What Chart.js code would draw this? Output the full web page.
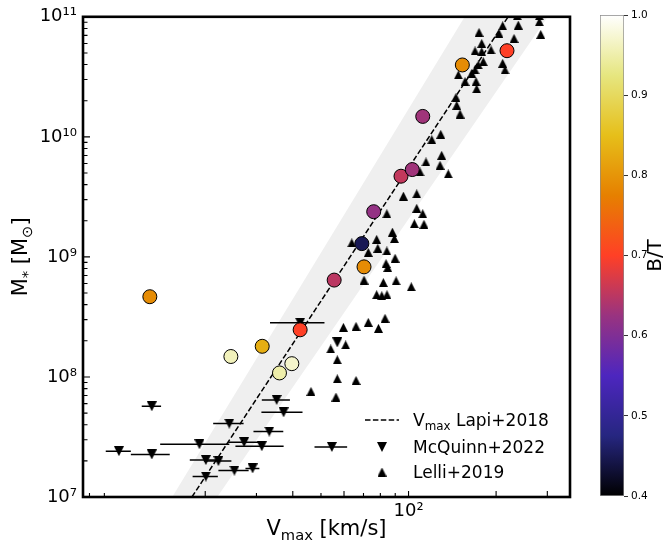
<!DOCTYPE html>
<html>
<head>
<meta charset="utf-8">
<script src="https://cdn.jsdelivr.net/npm/chart.js@4.4.1/dist/chart.umd.min.js"></script>
<style>
  html, body { margin: 0; padding: 0; background: #fff; }
  #wrap { position: relative; width: 671px; height: 549px; }
  #main { position: absolute; left: 0; top: 0; }
  #cbar { position: absolute; left: 590px; top: 0; }
</style>
</head>
<body>
<div id="wrap">
  <canvas id="main" width="590" height="549"></canvas>
  <canvas id="cbar" width="81" height="549"></canvas>
</div>
<script>
// Lapi+2018 Vmax relation (km/s vs Msun) and its scatter band
const lapiV = [18.0, 220];
const lapiM = [1e7, 1e11];
const bandV = [15.4, 156, 301, 22.0];
const bandM = [1e7, 1e11, 1e11, 1e7];

// McQuinn+2022 dwarfs, symmetric errors on Vmax
const mcqV = [13.1, 10.1, 13.1, 19.1, 24.2, 35.2, 37.2, 33.2, 27.2, 31.3, 20.1, 22.2, 25.2, 29.1, 20.1, 54.5, 42.4, 56.9];
const mcqVerr = [1.0, 1.0, 2.0, 5.1, 2.9, 3.9, 6.0, 3.9, 3.2, 5.9, 2.4, 2.4, 3.0, 1.6, 2.0, 7.0, 9.0, 0];
const mcqM = [5.7e7, 2.41e7, 2.26e7, 2.75e7, 4.09e7, 6.44e7, 5.07e7, 3.51e7, 2.86e7, 2.65e7, 2.03e7, 1.99e7, 1.66e7, 1.73e7, 1.48e7, 2.61e7, 2.83e8, 1.94e8];

// Lelli+2019
const lelliV = [174.7, 204.6, 210.7, 236.5, 238.4, 230.5, 281.6, 281.6, 284.7, 178.5,
  178.5, 192.1, 169.3, 180.7, 173.7, 169.3, 156.4, 148.3, 164.9, 170.6,
  171.5, 210.7, 214.6, 145.6, 146.4, 150.3, 129.0, 120.2, 130.0, 128.3,
  114.8, 137.0, 109.5, 96.0, 106.7, 106.7, 111.9, 104.7, 113.0, 84.2,
  88.0, 89.4, 77.7, 63.8, 72.7, 78.4, 84.2, 89.9, 83.7, 84.8,
  70.3, 81.9, 90.6, 102.2, 77.7, 80.9, 84.3, 59.7, 66.0, 72.7,
  83.0, 78.8, 54.0, 60.8, 56.9, 56.9, 66.0, 46.2, 56.3];
const lelliM = [7.41e10, 7.27e10, 8.42e10, 1.02e11, 8.53e10, 6.61e10, 1.02e11, 9.09e10, 7.13e10, 6.00e10,
  5.12e10, 5.29e10, 5.19e10, 4.23e10, 3.97e10, 3.61e10, 2.89e10, 3.28e10, 3.38e10, 2.89e10,
  2.51e10, 4.10e10, 3.61e10, 2.13e10, 1.83e10, 1.55e10, 1.05e10, 9.48e9, 7.02e9, 5.80e9,
  6.18e9, 4.91e9, 5.10e9, 3.21e9, 3.35e9, 2.54e9, 2.29e9, 1.89e9, 1.87e9, 2.29e9,
  1.61e9, 1.42e9, 1.40e9, 1.31e9, 1.09e9, 1.18e9, 1.12e9, 9.75e8, 8.80e8, 8.15e8,
  6.41e8, 6.12e8, 6.32e8, 5.64e8, 4.84e8, 4.75e8, 4.84e8, 2.59e8, 2.64e8, 2.85e8,
  3.08e8, 2.54e8, 1.71e8, 1.85e8, 1.39e8, 9.66e7, 9.35e7, 7.58e7, 6.80e7];

// galaxies coloured by bulge-to-total ratio
const galV = [12.9, 24.5, 31.4, 36.0, 39.7, 42.4, 55.5, 70.3, 69.1, 75.9, 94.2, 103.0, 111.9, 153.1, 218.0];
const galM = [4.66e8, 1.48e8, 1.80e8, 1.08e8, 1.29e8, 2.47e8, 6.41e8, 8.26e8, 1.29e9, 2.38e9, 4.70e9, 5.34e9, 1.48e10, 3.97e10, 5.22e10];
const galBT = [0.79, 0.96, 0.83, 0.95, 0.97, 0.70, 0.65, 0.79, 0.45, 0.62, 0.655, 0.63, 0.63, 0.79, 0.70];

// axes
const xTicks = [8, 9, 20, 30, 40, 50, 60, 70, 80, 90, 100, 200, 300];
const xMajor = [20, 40, 60, 100, 200, 300];
const xLabels = { 100: '10²' };
const yMajor = [1e7, 1e8, 1e9, 1e10, 1e11];
const yLabels = ['10⁷', '10⁸', '10⁹', '10¹⁰', '10¹¹'];
const cbTicks = [0.4, 0.5, 0.6, 0.7, 0.8, 0.9, 1.0];
const btMin = 0.4, btMax = 1.0;

const yTicks = [];
yMajor.slice(0, -1).forEach(d => { for (let k = 1; k <= 9; k++) yTicks.push(k * d); });
yTicks.push(yMajor[yMajor.length - 1]);

Chart.defaults.font.family = "'DejaVu Sans', sans-serif";
Chart.defaults.color = '#000';

// CMRmap colour table
const cmrStops = [
  [0.000, 0.00, 0.00, 0.00],
  [0.125, 0.15, 0.15, 0.50],
  [0.250, 0.30, 0.15, 0.75],
  [0.375, 0.60, 0.20, 0.50],
  [0.500, 1.00, 0.25, 0.15],
  [0.625, 0.90, 0.50, 0.00],
  [0.750, 0.90, 0.75, 0.10],
  [0.875, 0.90, 0.90, 0.50],
  [1.000, 1.00, 1.00, 1.00]
];
function cmr(t) {
  t = Math.min(1, Math.max(0, t));
  for (let i = 1; i < cmrStops.length; i++) {
    const a = cmrStops[i - 1], b = cmrStops[i];
    if (t <= b[0]) {
      const f = (t - a[0]) / (b[0] - a[0]);
      const c = [1, 2, 3].map(k => Math.round(255 * (a[k] + f * (b[k] - a[k]))));
      return `rgb(${c[0]},${c[1]},${c[2]})`;
    }
  }
}
const btColor = b => cmr((b - btMin) / (btMax - btMin));

// matplotlib-like triangle markers
function triangle(size, down) {
  const c = document.createElement('canvas');
  c.width = size; c.height = size;
  const g = c.getContext('2d');
  g.fillStyle = '#000';
  g.beginPath();
  if (down) { g.moveTo(0, 0); g.lineTo(size, 0); g.lineTo(size / 2, size); }
  else { g.moveTo(size / 2, 0); g.lineTo(size, size); g.lineTo(0, size); }
  g.closePath();
  g.fill();
  return c;
}
const triDown = triangle(10, true);
const triUp = triangle(9, false);

const toXY = (xs, ys) => xs.map((v, i) => ({ x: v, y: ys[i] }));

// text with subscripts: parts are [text, size, drop]
function richText(ctx, parts, x, y, align) {
  let w = 0;
  parts.forEach(p => { ctx.font = `${p[1]}px 'DejaVu Sans'`; w += ctx.measureText(p[0]).width; });
  let cx = align === 'center' ? x - w / 2 : x;
  ctx.textAlign = 'left';
  ctx.textBaseline = 'alphabetic';
  parts.forEach(p => {
    ctx.font = `${p[1]}px 'DejaVu Sans'`;
    ctx.fillText(p[0], cx, y + (p[2] || 0));
    cx += ctx.measureText(p[0]).width;
  });
}

const errorBars = {
  id: 'errorBars',
  beforeDatasetDraw(chart, args) {
    if (args.index !== 2) return;
    const { ctx, chartArea: a, scales: { x, y } } = chart;
    ctx.save();
    ctx.beginPath();
    ctx.rect(a.left, a.top, a.right - a.left, a.bottom - a.top);
    ctx.clip();
    ctx.strokeStyle = '#000';
    ctx.lineWidth = 1.5;
    mcqV.forEach((v, i) => {
      if (!mcqVerr[i]) return;
      const py = y.getPixelForValue(mcqM[i]);
      ctx.beginPath();
      ctx.moveTo(x.getPixelForValue(v - mcqVerr[i]), py);
      ctx.lineTo(x.getPixelForValue(v + mcqVerr[i]), py);
      ctx.stroke();
    });
    ctx.restore();
  }
};

// spines and inward ticks
const axisFrame = {
  id: 'axisFrame',
  afterDatasetsDraw(chart) {
    const { ctx, chartArea: a, scales: { x, y } } = chart;
    ctx.save();
    ctx.strokeStyle = '#000';
    ctx.lineWidth = 1.1;
    ctx.beginPath();
    y.ticks.forEach(t => {
      const py = y.getPixelForValue(t.value);
      const len = yMajor.includes(t.value) ? 7 : 4.5;
      ctx.moveTo(a.left, py);
      ctx.lineTo(a.left + len, py);
    });
    x.ticks.forEach(t => {
      const px = x.getPixelForValue(t.value);
      const len = xMajor.includes(t.value) ? 6 : 4;
      ctx.moveTo(px, a.bottom);
      ctx.lineTo(px, a.bottom - len);
    });
    ctx.stroke();
    ctx.lineWidth = 2.6;
    ctx.strokeRect(a.left, a.top, a.right - a.left, a.bottom - a.top);
    ctx.restore();
  }
};

const titlesAndLegend = {
  id: 'titlesAndLegend',
  afterDraw(chart) {
    const { ctx, chartArea: a } = chart;
    ctx.save();
    ctx.fillStyle = '#000';
    richText(ctx, [['V', 21], ['max', 14.7, 4.5], [' [km/s]', 21]], (a.left + a.right) / 2, 535, 'center');

    ctx.save();
    ctx.translate(27, (a.top + a.bottom) / 2);
    ctx.rotate(-Math.PI / 2);
    richText(ctx, [['M', 21], ['*', 14.7, 4.5], [' [M', 21], ['⊙', 14.7, 4.5], [']', 21]], 0, 0, 'center');
    ctx.restore();

    // legend
    const mx = 382, tx = 413;
    const rows = [a.bottom - 77, a.bottom - 50, a.bottom - 25];
    ctx.strokeStyle = '#000';
    ctx.lineWidth = 1.5;
    ctx.setLineDash([5.5, 2.4]);
    ctx.beginPath();
    ctx.moveTo(365, rows[0]);
    ctx.lineTo(399, rows[0]);
    ctx.stroke();
    ctx.setLineDash([]);
    ctx.drawImage(triDown, mx - triDown.width / 2, rows[1] - triDown.height / 2);
    ctx.drawImage(triUp, mx - triUp.width / 2, rows[2] - triUp.height / 2);
    richText(ctx, [['V', 17], ['max', 11.9, 3.6], [' Lapi+2018', 17]], tx, rows[0] + 6, 'left');
    richText(ctx, [['McQuinn+2022', 17]], tx, rows[1] + 6, 'left');
    richText(ctx, [['Lelli+2019', 17]], tx, rows[2] + 6, 'left');
    ctx.restore();
  }
};

new Chart(document.getElementById('main'), {
  type: 'scatter',
  data: {
    datasets: [
      { label: 'band', type: 'line', data: toXY(bandV, bandM), fill: 'shape',
        backgroundColor: '#efefef', borderWidth: 0, pointRadius: 0, order: 5 },
      { label: 'Lapi+2018', type: 'line', data: toXY(lapiV, lapiM), fill: false,
        borderColor: '#000', borderWidth: 1.5, borderDash: [5.5, 2.4], pointRadius: 0, order: 4 },
      { label: 'McQuinn+2022', data: toXY(mcqV, mcqM), pointStyle: triDown, pointRadius: 5, order: 3 },
      { label: 'Lelli+2019', data: toXY(lelliV, lelliM), pointStyle: triUp, pointRadius: 5, order: 2 },
      { label: 'B/T', data: toXY(galV, galM), pointRadius: 7, pointStyle: 'circle',
        pointBackgroundColor: galBT.map(btColor), pointBorderColor: '#000', pointBorderWidth: 1, order: 1 }
    ]
  },
  options: {
    responsive: false,
    animation: false,
    events: [],
    layout: { padding: { top: 15, right: 20, left: 0, bottom: 0 } },
    plugins: { legend: { display: false }, tooltip: { enabled: false } },
    scales: {
      x: {
        type: 'logarithmic', min: 7.6, max: 359,
        grid: { display: false, drawTicks: false },
        border: { display: false },
        afterBuildTicks: s => { s.ticks = xTicks.map(v => ({ value: v })); },
        afterFit: s => { s.height = 52; },
        ticks: { autoSkip: false, maxRotation: 0, padding: 4, font: { size: 18 },
          callback: v => xLabels[v] || '' }
      },
      y: {
        type: 'logarithmic', min: 1e7, max: 1e11,
        grid: { display: false, drawTicks: false },
        border: { display: false },
        afterBuildTicks: s => { s.ticks = yTicks.map(v => ({ value: v })); },
        afterFit: s => { s.width = 83; },
        ticks: { autoSkip: false, padding: 6, font: { size: 18 },
          callback: v => { const i = yMajor.indexOf(v); return i >= 0 ? yLabels[i] : ''; } }
      }
    }
  },
  plugins: [errorBars, axisFrame, titlesAndLegend]
});

// colour bar
const cbLabel = {
  id: 'cbLabel',
  afterDraw(chart) {
    const { ctx, chartArea: a } = chart;
    ctx.save();
    ctx.translate(66, (a.top + a.bottom) / 2);
    ctx.rotate(-Math.PI / 2);
    ctx.font = "20px 'DejaVu Sans'";
    ctx.fillStyle = '#000';
    ctx.textAlign = 'center';
    ctx.textBaseline = 'middle';
    ctx.fillText('B/T', 0, 0);
    ctx.restore();
  }
};

new Chart(document.getElementById('cbar'), {
  type: 'bar',
  data: {
    labels: ['B/T'],
    datasets: [{
      data: [[btMin, btMax]],
      backgroundColor: c => {
        const chart = c.chart;
        if (!chart.chartArea) return '#000';
        const y = chart.scales.y;
        const g = chart.ctx.createLinearGradient(0, y.getPixelForValue(btMin), 0, y.getPixelForValue(btMax));
        cmrStops.forEach(s => g.addColorStop(s[0], cmr(s[0])));
        return g;
      },
      borderColor: '#8a8a8a', borderWidth: 1, borderSkipped: false,
      barPercentage: 1, categoryPercentage: 1
    }]
  },
  options: {
    responsive: false,
    animation: false,
    events: [],
    layout: { padding: { left: 10, top: 15, bottom: 53, right: 0 } },
    plugins: { legend: { display: false }, tooltip: { enabled: false } },
    scales: {
      x: { display: false },
      y: {
        position: 'right', min: btMin, max: btMax,
        afterBuildTicks: s => { s.ticks = cbTicks.map(v => ({ value: v })); },
        afterFit: s => { s.width = 47; },
        grid: { drawOnChartArea: false, tickLength: 4, color: '#000', lineWidth: 0.8 },
        border: { display: false },
        ticks: { padding: 3, font: { size: 10.5 }, callback: v => v.toFixed(1) }
      }
    }
  },
  plugins: [cbLabel]
});
</script>
</body>
</html>
